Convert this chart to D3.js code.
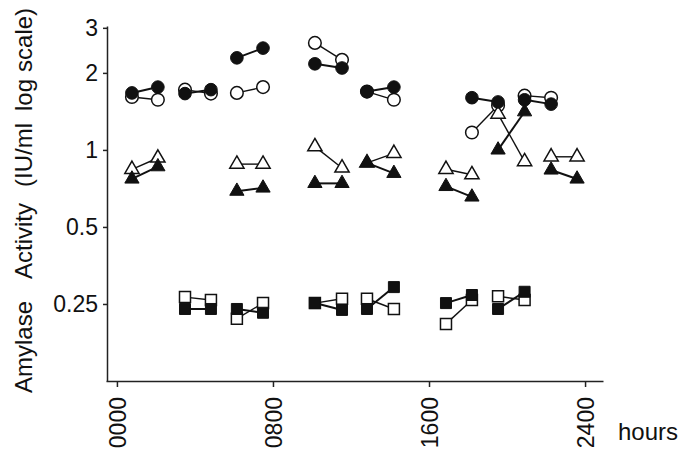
<!DOCTYPE html>
<html>
<head>
<meta charset="utf-8">
<script src="https://cdn.jsdelivr.net/npm/d3@7"></script>
<style>
  body { margin: 0; background: #fff; }
  svg { display: block; }
  text { font-family: "Liberation Sans", Arial, Helvetica, sans-serif; fill: #111; }
  .axis path, .axis line { stroke: #222; stroke-width: 1.5; }
  .axis text { font-size: 23px; }
</style>
</head>
<body>
<script>
// each pair: [hour0, value0, hour1, value1]  (IU/ml)
var openCircle = [
  [0.77, 1.61, 2.10, 1.57],
  [3.49, 1.72, 4.82, 1.66],
  [6.15, 1.67, 7.49, 1.76],
  [10.15, 2.62, 11.54, 2.25],
  [12.82, 1.69, 14.20, 1.57],
  [18.20, 1.17, 19.54, 1.49],
  [20.90, 1.63, 22.26, 1.60]
];
var filledCircle = [
  [0.77, 1.67, 2.10, 1.76],
  [3.49, 1.66, 4.82, 1.72],
  [6.15, 2.29, 7.49, 2.50],
  [10.15, 2.17, 11.54, 2.09],
  [12.82, 1.69, 14.20, 1.76],
  [18.20, 1.60, 19.54, 1.54],
  [20.90, 1.57, 22.26, 1.51]
];
var openTriangle = [
  [0.77, 0.84, 2.10, 0.93],
  [6.15, 0.88, 7.49, 0.88],
  [10.15, 1.03, 11.54, 0.85],
  [12.82, 0.89, 14.20, 0.97],
  [16.87, 0.84, 18.20, 0.80],
  [19.54, 1.38, 20.90, 0.90],
  [22.26, 0.94, 23.59, 0.94]
];
var filledTriangle = [
  [0.77, 0.77, 2.10, 0.86],
  [6.15, 0.69, 7.49, 0.71],
  [10.15, 0.74, 11.54, 0.74],
  [12.82, 0.89, 14.20, 0.81],
  [16.87, 0.72, 18.20, 0.655],
  [19.54, 1.00, 20.90, 1.41],
  [22.26, 0.835, 23.59, 0.77]
];
var openSquare = [
  [3.49, 0.266, 4.82, 0.259],
  [6.15, 0.219, 7.49, 0.252],
  [10.15, 0.252, 11.54, 0.262],
  [12.82, 0.262, 14.20, 0.239],
  [16.87, 0.209, 18.20, 0.259],
  [19.54, 0.268, 20.90, 0.259]
];
var filledSquare = [
  [3.49, 0.239, 4.82, 0.239],
  [6.15, 0.239, 7.49, 0.231],
  [10.15, 0.252, 11.54, 0.237],
  [12.82, 0.239, 14.20, 0.291],
  [16.87, 0.252, 18.20, 0.271],
  [19.54, 0.239, 20.90, 0.279]
];
var xTicks = [0, 8, 16, 24];
var xTickLabels = ["0000", "0800", "1600", "2400"];
var yTicks = [0.25, 0.5, 1, 2, 3];
var yTitleWords = ["Amylase", "Activity", "(IU/ml", "log", "scale)"];

var svg = d3.select("body").append("svg")
  .attr("width", 693)
  .attr("height", 455);

var xScale = d3.scaleLinear().domain([-0.56, 24.92]).range([106, 603]);
var yScale = d3.scaleLog().domain([0.125, 3.05]).range([381, 26]);

// axes
var xAxis = d3.axisBottom(xScale)
  .tickValues(xTicks)
  .tickFormat(function (d, i) { return xTickLabels[i]; })
  .tickSize(6).tickSizeOuter(0);
svg.append("g").attr("class", "axis")
  .attr("transform", "translate(0,381)")
  .call(xAxis)
  .selectAll("text")
    .attr("transform", "rotate(-90)")
    .attr("text-anchor", "end")
    .attr("x", -16).attr("y", 0).attr("dy", "0.36em");

var yAxis = d3.axisLeft(yScale)
  .tickValues(yTicks)
  .tickFormat(d3.format(""))
  .tickSize(4).tickSizeOuter(0).tickPadding(5);
svg.append("g").attr("class", "axis")
  .attr("transform", "translate(107,0)")
  .call(yAxis);

svg.append("text").text("hours")
  .attr("x", 618).attr("y", 440)
  .style("font-size", "24px");

// y title, word gaps as in the print
var gaps = [0, 22, 16, 12, 7];
svg.append("text")
  .attr("transform", "translate(32,393) rotate(-90)")
  .style("font-size", "24px")
  .selectAll("tspan").data(yTitleWords).enter().append("tspan")
    .attr("dx", function (d, i) { return gaps[i]; })
    .text(function (d) { return d; });

// series
var series = [
  { data: openCircle, type: d3.symbolCircle, size: 125, filled: false },
  { data: openTriangle, type: d3.symbolTriangle, size: 88, filled: false },
  { data: openSquare, type: d3.symbolSquare, size: 121, filled: false },
  { data: filledCircle, type: d3.symbolCircle, size: 125, filled: true },
  { data: filledTriangle, type: d3.symbolTriangle, size: 88, filled: true },
  { data: filledSquare, type: d3.symbolSquare, size: 121, filled: true }
];

var plot = svg.append("g");

// connecting lines first
series.forEach(function (s) {
  plot.selectAll(null).data(s.data).enter().append("line")
    .attr("x1", function (d) { return xScale(d[0]); })
    .attr("y1", function (d) { return yScale(d[1]); })
    .attr("x2", function (d) { return xScale(d[2]); })
    .attr("y2", function (d) { return yScale(d[3]); })
    .attr("stroke", "#111")
    .attr("stroke-width", s.filled ? 2 : 1.4);
});

// then the markers
series.forEach(function (s) {
  var pts = [];
  s.data.forEach(function (d) { pts.push([d[0], d[1]], [d[2], d[3]]); });
  plot.selectAll(null).data(pts).enter().append("path")
    .attr("d", d3.symbol().type(s.type).size(s.size))
    .attr("transform", function (d) {
      return "translate(" + xScale(d[0]) + "," + yScale(d[1]) + ")";
    })
    .attr("fill", s.filled ? "#111" : "#fff")
    .attr("stroke", "#111")
    .attr("stroke-width", s.filled ? 1 : 1.5);
});
</script>
</body>
</html>
